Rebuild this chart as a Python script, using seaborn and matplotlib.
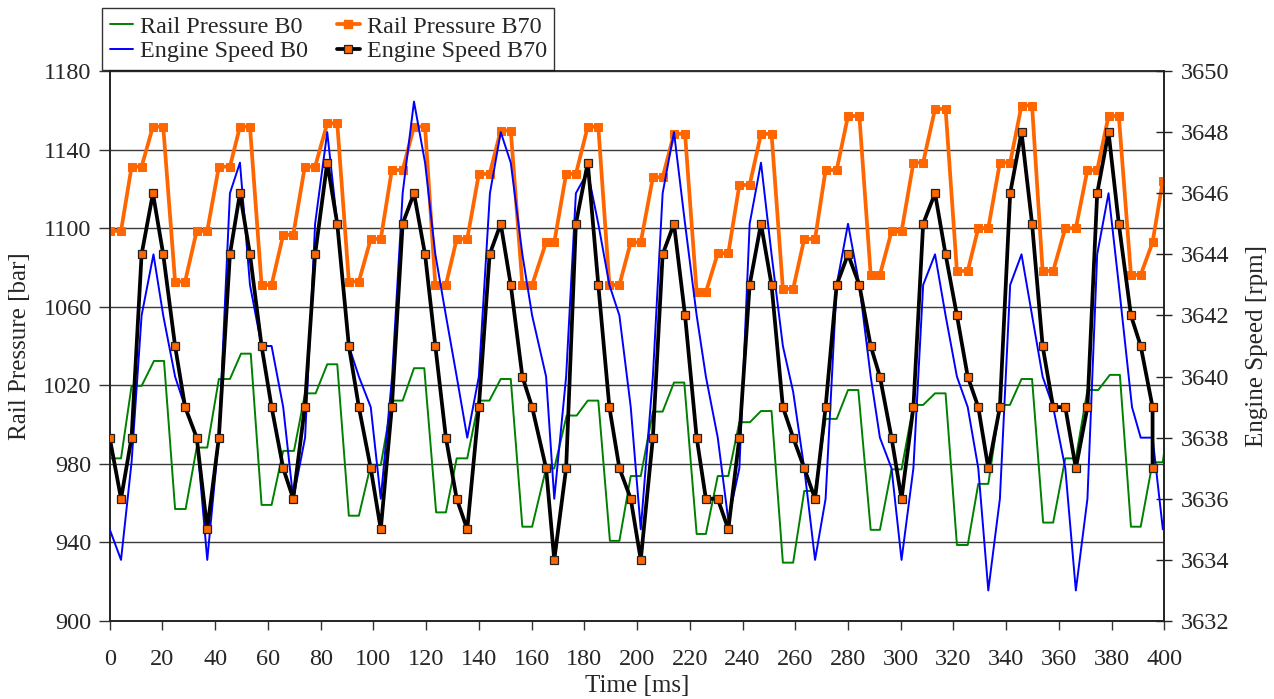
import matplotlib
matplotlib.use("Agg")
import matplotlib.pyplot as plt
import seaborn as sns
import pandas as pd
from matplotlib.lines import Line2D

# ---- data -------------------------------------------------------------
time_b70 = [0, 4.3, 8.3, 12.1, 16.4, 20.3, 24.8, 28.6, 33.0, 37.0,
            41.4, 45.6, 49.4, 53.2, 57.6, 61.4, 65.8, 69.6, 74.0, 77.9,
            82.5, 86.3, 90.7, 94.5, 99.0, 102.8, 107.0, 111.1, 115.4, 119.6,
            123.5, 127.5, 131.6, 135.6, 140.0, 144.1, 148.3, 152.1, 156.5, 160.2,
            165.5, 168.6, 173.1, 176.8, 181.3, 185.3, 189.5, 193.3, 197.6, 201.4,
            206.0, 209.7, 214.0, 218.2, 222.6, 226.1, 230.6, 234.6, 238.8, 242.7,
            247.0, 251.0, 255.3, 259.2, 263.4, 267.5, 271.5, 275.7, 280.0, 284.3,
            288.6, 292.1, 296.5, 300.3, 304.8, 308.5, 313.0, 317.0, 321.3, 325.4,
            329.4, 333.2, 337.6, 341.5, 345.8, 349.8, 353.8, 357.8, 362.4, 366.4,
            370.8, 374.5, 378.8, 382.7, 387.3, 391.0, 395.5, 399.4]

rail_b70 = [1098.6, 1098.6, 1131.3, 1131.3, 1151.7, 1151.7, 1072.8, 1072.8, 1098.6, 1098.6,
            1131.3, 1131.3, 1151.7, 1151.7, 1071.1, 1071.1, 1096.6, 1096.6, 1131.3, 1131.3,
            1153.4, 1153.4, 1072.8, 1072.8, 1094.5, 1094.5, 1129.6, 1129.6, 1151.7, 1151.7,
            1071.1, 1071.1, 1094.5, 1094.5, 1127.6, 1127.6, 1149.7, 1149.7, 1071.1, 1071.1,
            1092.8, 1092.8, 1127.6, 1127.6, 1151.7, 1151.7, 1071.1, 1071.1, 1092.8, 1092.8,
            1125.9, 1125.9, 1148.0, 1148.0, 1067.4, 1067.4, 1087.2, 1087.2, 1122.0, 1122.0,
            1148.0, 1148.0, 1069.1, 1069.1, 1094.5, 1094.5, 1129.6, 1129.6, 1157.1, 1157.1,
            1076.2, 1076.2, 1098.3, 1098.3, 1133.4, 1133.4, 1160.7, 1160.7, 1078.2, 1078.2,
            1100.0, 1100.0, 1133.4, 1133.4, 1162.4, 1162.4, 1078.2, 1078.2, 1100.0, 1100.0,
            1129.6, 1129.6, 1157.1, 1157.1, 1076.2, 1076.2, 1092.8, 1124.2]

# engine speed B70 ends with two samples logged at the same instant
time_speed_b70 = time_b70[:-1] + [time_b70[-2]]
speed_b70 = [3638, 3636, 3638, 3644, 3646, 3644, 3641, 3639, 3638, 3635,
             3638, 3644, 3646, 3644, 3641, 3639, 3637, 3636, 3639, 3644,
             3647, 3645, 3641, 3639, 3637, 3635, 3639, 3645, 3646, 3644,
             3641, 3638, 3636, 3635, 3639, 3644, 3645, 3643, 3640, 3639,
             3637, 3634, 3637, 3645, 3647, 3643, 3639, 3637, 3636, 3634,
             3638, 3644, 3645, 3642, 3638, 3636, 3636, 3635, 3638, 3643,
             3645, 3643, 3639, 3638, 3637, 3636, 3639, 3643, 3644, 3643,
             3641, 3640, 3638, 3636, 3639, 3645, 3646, 3644, 3642, 3640,
             3639, 3637, 3639, 3646, 3648, 3645, 3641, 3639, 3639, 3637,
             3639, 3646, 3648, 3645, 3642, 3641, 3639, 3637]

time_rail_b0 = [0, 4.3, 8.3, 12.1, 16.8, 20.6, 24.8, 28.8, 33.0, 37.0,
                41.4, 45.6, 49.8, 53.5, 57.6, 61.4, 65.8, 69.9, 74.1, 78.1,
                82.5, 86.3, 90.7, 94.5, 99.0, 102.8, 107.1, 111.1, 115.4, 119.3,
                123.8, 127.5, 131.6, 135.6, 140.0, 144.0, 148.3, 152.1, 156.5, 160.2,
                165.5, 168.6, 173.3, 177.1, 181.3, 185.3, 189.7, 193.3, 197.6, 201.4,
                206.0, 209.7, 214.0, 217.9, 222.6, 226.1, 230.6, 234.6, 238.8, 242.8,
                247.0, 251.0, 255.3, 259.2, 263.4, 267.5, 271.5, 275.7, 280.0, 283.9,
                288.6, 292.1, 296.5, 300.3, 304.8, 308.5, 313.0, 317.0, 321.3, 325.4,
                329.4, 333.2, 337.6, 341.4, 345.8, 349.8, 354.0, 357.8, 362.4, 366.4,
                370.8, 374.9, 379.3, 383.1, 387.3, 391.0, 395.5, 399.4, 401.2]
rail_b0 = [982.8, 982.8, 1019.7, 1019.7, 1032.4, 1032.4, 957.0, 957.0, 988.3, 988.3,
           1023.2, 1023.2, 1036.1, 1036.1, 959.1, 959.1, 986.6, 986.6, 1015.9, 1015.9,
           1030.7, 1030.7, 953.6, 953.6, 979.4, 979.4, 1012.2, 1012.2, 1028.7, 1028.7,
           955.3, 955.3, 982.8, 982.8, 1012.2, 1012.2, 1023.2, 1023.2, 948.0, 948.0,
           977.7, 977.7, 1004.6, 1004.6, 1012.2, 1012.2, 940.8, 940.8, 973.8, 973.8,
           1006.6, 1006.6, 1021.4, 1021.4, 944.3, 944.3, 973.8, 973.8, 1001.2, 1001.2,
           1006.9, 1006.9, 929.7, 929.7, 966.2, 966.2, 1002.9, 1002.9, 1017.6, 1017.6,
           946.4, 946.4, 977.2, 977.2, 1010.0, 1010.0, 1015.9, 1015.9, 938.7, 938.7,
           969.8, 969.8, 1010.0, 1010.0, 1023.2, 1023.2, 950.1, 950.1, 982.8, 982.8,
           1017.6, 1017.6, 1025.3, 1025.3, 948.0, 948.0, 980.8, 980.8, 1000.7]

time_speed_b0 = [0, 4.3, 8.3, 12.1, 16.6, 20.3, 24.8, 28.6, 33.0, 37.0,
                 41.4, 45.6, 49.4, 53.2, 57.6, 61.4, 65.8, 69.6, 74.1, 77.9,
                 82.5, 86.3, 90.7, 94.5, 99.0, 102.8, 107.1, 111.1, 115.4, 119.6,
                 123.5, 127.5, 131.6, 135.6, 140.0, 144.2, 148.3, 152.1, 156.5, 160.2,
                 165.5, 168.6, 173.1, 176.8, 181.3, 185.3, 189.5, 193.3, 197.6, 201.4,
                 206.0, 209.7, 214.0, 218.2, 222.6, 226.1, 230.6, 234.6, 238.8, 242.7,
                 247.0, 251.0, 255.3, 259.2, 263.4, 267.5, 271.5, 275.7, 280.0, 284.3,
                 288.6, 292.1, 296.5, 300.3, 304.8, 308.5, 313.0, 317.0, 321.3, 325.4,
                 329.4, 333.2, 337.6, 341.5, 345.8, 349.8, 353.8, 357.8, 362.4, 366.4,
                 370.8, 374.5, 378.8, 382.7, 387.7, 391.0, 395.5, 399.4, 401.2]
speed_b0 = [3635, 3634, 3637.2, 3642, 3644, 3642, 3640, 3639, 3638, 3634,
            3638, 3646, 3647, 3643, 3641, 3641, 3639, 3636, 3638, 3645,
            3648, 3645, 3641, 3640, 3639, 3636, 3640, 3646, 3649, 3647,
            3644, 3642, 3640, 3638, 3640, 3646, 3648, 3647, 3644, 3642,
            3640, 3636, 3640, 3646, 3646.7, 3645, 3643, 3642, 3639, 3635,
            3640, 3646, 3648, 3645, 3642, 3640, 3638, 3635.3, 3637, 3645,
            3647, 3644, 3641, 3639.5, 3637, 3634, 3636, 3643, 3645, 3643,
            3640, 3638, 3637, 3634, 3637, 3643, 3644, 3642, 3640, 3639,
            3637, 3633, 3636, 3643, 3644, 3642, 3640, 3639, 3637, 3633,
            3636, 3644, 3646, 3643, 3639, 3638, 3638, 3635, 3636.3]

rail_ticks = list(range(900, 1181, 40))
speed_ticks = list(range(3632, 3651, 2))
time_ticks = list(range(0, 401, 20))

# ---- styling ------------------------------------------------------------
sns.set_theme(style="white")
plt.rcParams["font.family"] = ["Liberation Serif", "DejaVu Serif"]

TICK_FS = 17.5
LABEL_FS = 18
LEGEND_FS = 17.4

GREEN = "#008000"
BLUE = "#0000FF"
ORANGE = "#FF6600"

fig = plt.figure(figsize=(12.74, 6.99), dpi=100)
ax = fig.add_axes([0.0861, 0.1116, 0.8279, 0.7868])
ax2 = ax.twinx()

df_rail_b0 = pd.DataFrame({"t": time_rail_b0, "v": rail_b0})
df_rail_b70 = pd.DataFrame({"t": time_b70, "v": rail_b70})
df_speed_b0 = pd.DataFrame({"t": time_speed_b0, "v": speed_b0})
df_speed_b70 = pd.DataFrame({"t": time_speed_b70, "v": speed_b70})

sns.lineplot(data=df_rail_b0, x="t", y="v", ax=ax, sort=False, estimator=None,
             color=GREEN, lw=1.4, zorder=3)
sns.lineplot(data=df_rail_b70, x="t", y="v", ax=ax, sort=False, estimator=None,
             color=ORANGE, lw=2.7, marker="s", markersize=6.0,
             markerfacecolor=ORANGE, markeredgecolor=ORANGE, zorder=4)
sns.lineplot(data=df_speed_b0, x="t", y="v", ax=ax2, sort=False, estimator=None,
             color=BLUE, lw=1.4, zorder=3)
sns.lineplot(data=df_speed_b70, x="t", y="v", ax=ax2, sort=False, estimator=None,
             color="black", lw=2.7, marker="s", markersize=6.0,
             markerfacecolor=ORANGE, markeredgecolor="#222222", markeredgewidth=0.9,
             zorder=4)

# ---- axes -----------------------------------------------------------------
ax.set_xlim(0, 400)
ax.set_ylim(900, 1180)
ax2.set_ylim(3632, 3650)
ax.set_xticks(time_ticks)
ax.set_yticks(rail_ticks)
ax2.set_yticks(speed_ticks)

ax.set_xlabel("Time [ms]", fontsize=LABEL_FS, labelpad=3)
ax.set_ylabel("Rail Pressure [bar]", fontsize=LABEL_FS, labelpad=9)
ax2.set_ylabel("Engine Speed [rpm]", fontsize=LABEL_FS, labelpad=12)

ax.grid(False)
ax2.grid(False)
for yv in rail_ticks[1:]:
    ax.axhline(yv, color="#3a3a3a", lw=1.0, zorder=1)

for a in (ax, ax2):
    for s in a.spines.values():
        s.set_color("#222222")
        s.set_linewidth(1.2)
ax.spines["top"].set_color("#777777")

ax.tick_params(axis="x", direction="out", length=6.5, width=1, color="#333333",
               pad=14, labelsize=TICK_FS, bottom=True)
ax.tick_params(axis="y", direction="out", length=8, width=1, color="#333333",
               pad=5, labelsize=TICK_FS, left=True)
ax2.tick_params(axis="y", direction="inout", length=11.5, width=1, color="#222222",
                pad=6, labelsize=TICK_FS, right=True)

handles = [
    Line2D([], [], color=GREEN, lw=1.4),
    Line2D([], [], color=BLUE, lw=1.4),
    Line2D([], [], color=ORANGE, lw=2.7, marker="s", markersize=6.0,
           markerfacecolor=ORANGE, markeredgecolor=ORANGE),
    Line2D([], [], color="black", lw=2.7, marker="s", markersize=6.0,
           markerfacecolor=ORANGE, markeredgecolor="#222222", markeredgewidth=0.9),
]
labels = ["Rail Pressure B0", "Engine Speed B0", "Rail Pressure B70", "Engine Speed B70"]
leg = fig.legend(handles, labels, loc="upper left", bbox_to_anchor=(0.0803, 0.988),
                 ncol=2, fontsize=LEGEND_FS, frameon=True, fancybox=False, borderaxespad=0,
                 handlelength=0.95, handletextpad=0.3, columnspacing=1.2,
                 labelspacing=0.12, borderpad=0.3, numpoints=1)
leg.get_frame().set_edgecolor("black")
leg.get_frame().set_linewidth(1.0)

fig.savefig("out.png", dpi=100)
